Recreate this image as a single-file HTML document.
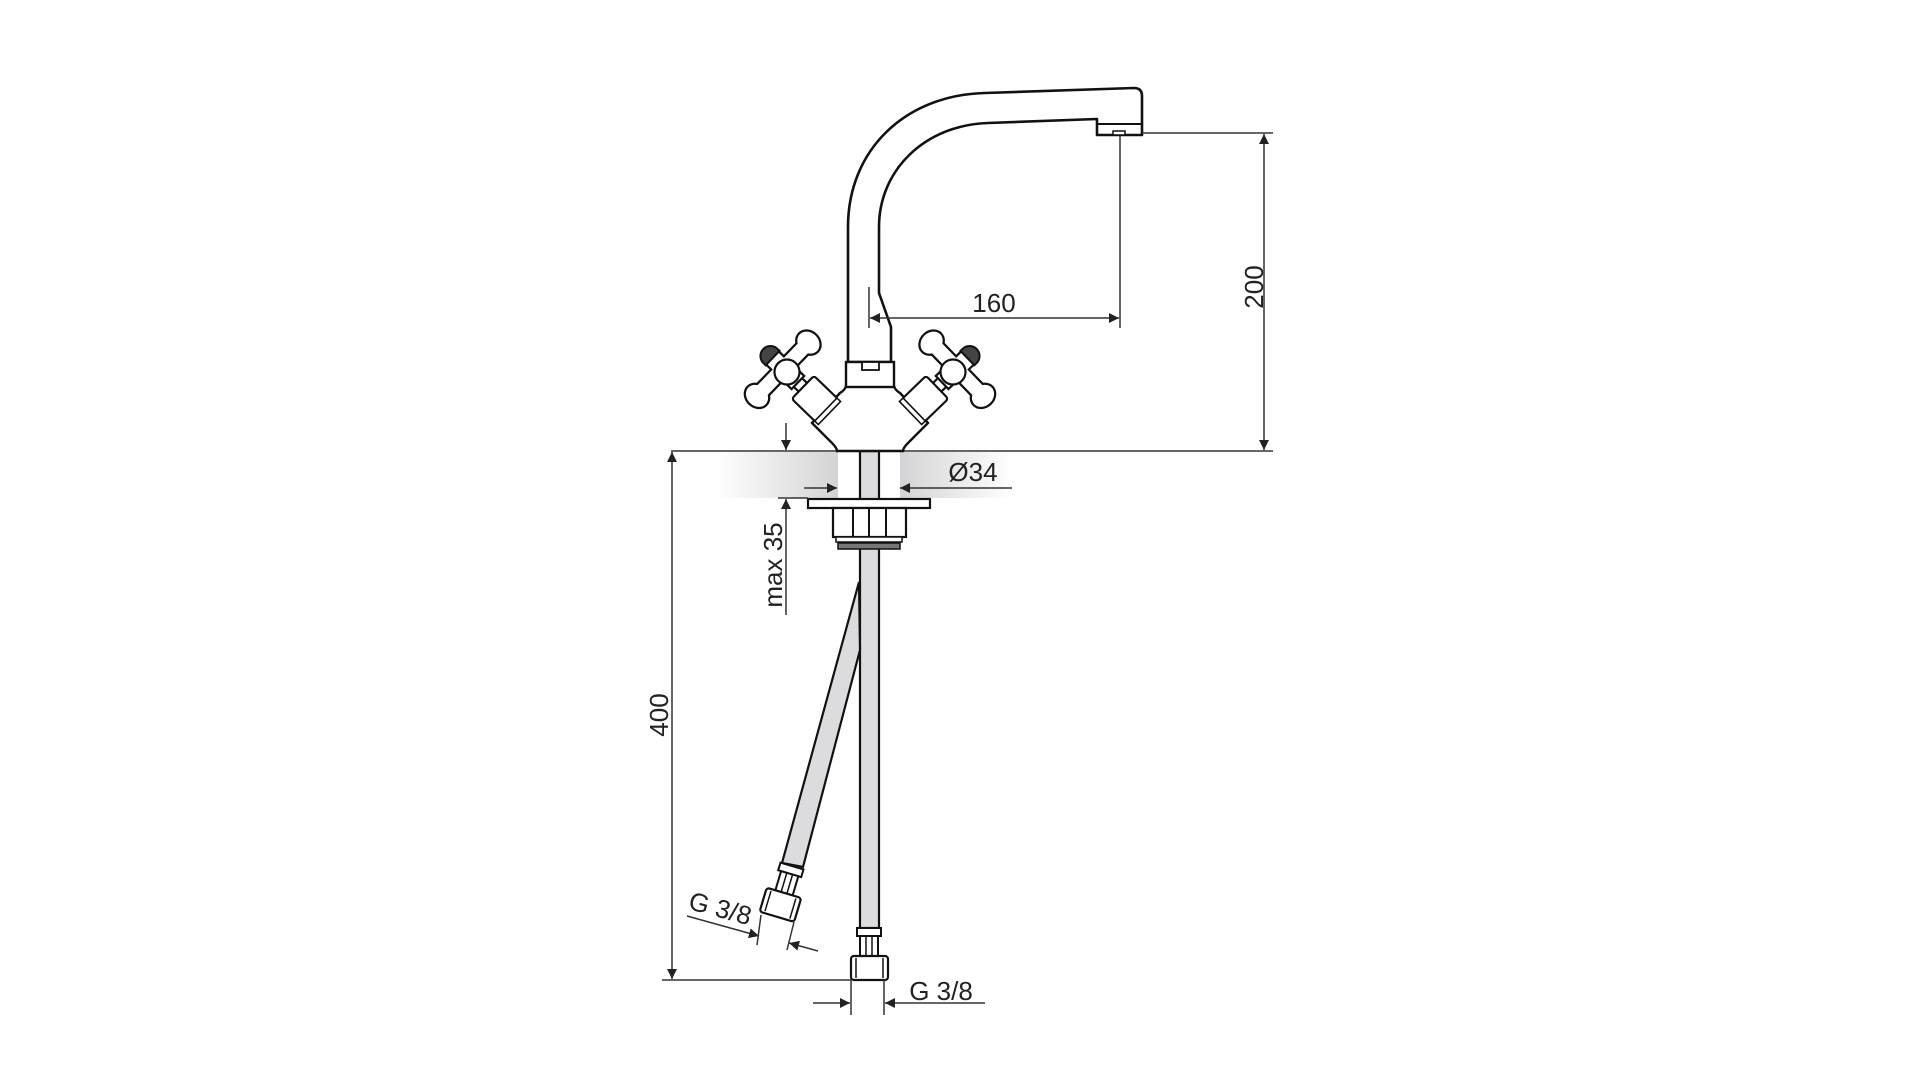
<!DOCTYPE html>
<html><head><meta charset="utf-8"><style>
html,body{margin:0;padding:0;background:#fff;}
svg{display:block;}
text{font-family:"Liberation Sans",sans-serif;fill:#222;}
</style></head><body>
<svg width="1920" height="1080" viewBox="0 0 1920 1080" xmlns="http://www.w3.org/2000/svg">
<defs>
<linearGradient id="gl" x1="0" x2="1" y1="0" y2="0">
<stop offset="0" stop-color="#fff"/><stop offset="1" stop-color="#d4d4d6"/></linearGradient>
<linearGradient id="gr" x1="0" x2="1" y1="0" y2="0">
<stop offset="0" stop-color="#d4d4d6"/><stop offset="1" stop-color="#fff"/></linearGradient>
<marker id="a" viewBox="0 0 10 10" refX="10" refY="5" markerWidth="16" markerHeight="10" markerUnits="userSpaceOnUse" orient="auto-start-reverse"><path d="M0,0 L10,5 L0,10 z" fill="#222"/></marker>
<g id="handle">
  <rect x="10" y="-6" width="14" height="12" fill="#fff" stroke="#111" stroke-width="2.2"/>
  <rect x="22" y="-16" width="33" height="32" rx="3" fill="#fff" stroke="#111" stroke-width="2.2"/>
  <rect x="54" y="-16" width="5" height="32" fill="#fff" stroke="#111" stroke-width="1.6"/>
  <g stroke="#111" stroke-width="4.5" fill="#111">
    <rect x="-12" y="-32" width="14" height="64"/>
    <ellipse cx="-5" cy="-36" rx="12" ry="10"/>
    <ellipse cx="-5" cy="38" rx="12" ry="10"/>
    <rect x="-22" y="-8" width="36" height="16"/>
  </g>
  <g fill="#fff">
    <rect x="-12" y="-32" width="14" height="64"/>
    <ellipse cx="-5" cy="-36" rx="12" ry="10"/>
    <ellipse cx="-5" cy="38" rx="12" ry="10"/>
    <rect x="-22" y="-8" width="36" height="16"/>
  </g>
  <path d="M-23,-10 A5,5 0 0 0 -23,10 L-20,10 L-20,-10 Z" fill="#444" stroke="#111" stroke-width="2"/>
  <circle cx="0" cy="0" r="12.5" fill="#fff" stroke="#111" stroke-width="2.2"/>
</g>
</defs>

<rect x="716" y="452" width="122" height="46" fill="url(#gl)"/>
<rect x="900" y="452" width="112" height="46" fill="url(#gr)"/>

<line x1="671" y1="451" x2="1273" y2="451" stroke="#333" stroke-width="1.6"/>

<rect x="860" y="451" width="19" height="477" fill="#dcdcde" stroke="#111" stroke-width="2.2"/>

<path d="M859,582 L782,863 L803,867 L860,650 Z" fill="#dcdcde" stroke="#111" stroke-width="2.2"/>

<rect x="808" y="499" width="122" height="9" fill="#fff" stroke="#111" stroke-width="2.2"/>
<rect x="833" y="508" width="73" height="29" fill="#fff" stroke="#111" stroke-width="2.2"/>
<line x1="853" y1="508" x2="853" y2="537" stroke="#111" stroke-width="2"/>
<line x1="869" y1="508" x2="869" y2="537" stroke="#111" stroke-width="2"/>
<line x1="886" y1="508" x2="886" y2="537" stroke="#111" stroke-width="2"/>
<rect x="836" y="537" width="66" height="5" fill="#fff" stroke="#111" stroke-width="1.5"/>
<rect x="838" y="543" width="62" height="6" fill="#777" stroke="#111" stroke-width="1.5"/>

<rect x="857" y="928" width="24" height="8" fill="#fff" stroke="#111" stroke-width="2"/>
<rect x="860" y="936" width="18" height="20" fill="#fff" stroke="#111" stroke-width="2"/>
<line x1="866" y1="936" x2="866" y2="956" stroke="#111" stroke-width="1.5"/>
<line x1="872" y1="936" x2="872" y2="956" stroke="#111" stroke-width="1.5"/>
<rect x="851" y="956" width="37" height="24" rx="3" fill="#fff" stroke="#111" stroke-width="2.2"/>
<line x1="856" y1="958" x2="856" y2="978" stroke="#111" stroke-width="1.5"/>
<line x1="883" y1="958" x2="883" y2="978" stroke="#111" stroke-width="1.5"/>

<g transform="translate(792,866) rotate(16.6)">
  <rect x="-12" y="0" width="24" height="8" fill="#fff" stroke="#111" stroke-width="2"/>
  <rect x="-9" y="8" width="18" height="20" fill="#fff" stroke="#111" stroke-width="2"/>
  <line x1="-3" y1="8" x2="-3" y2="28" stroke="#111" stroke-width="1.5"/>
  <line x1="3" y1="8" x2="3" y2="28" stroke="#111" stroke-width="1.5"/>
  <rect x="-18" y="28" width="36" height="25" rx="3" fill="#fff" stroke="#111" stroke-width="2.2"/>
  <line x1="-13" y1="30" x2="-13" y2="51" stroke="#111" stroke-width="1.5"/>
  <line x1="13" y1="30" x2="13" y2="51" stroke="#111" stroke-width="1.5"/>
</g>

<path d="M812,423 L832,443 Q837,448 837,451 L903,451 Q903,448 908,443 L928,423 L900,393 Q895,390 894,386 L846,386 Q845,390 840,393 Z" fill="#fff" stroke="#111" stroke-width="2.4"/>

<path d="M848,362 L848,227 C848,150 905,95 985,93 L1134,88 Q1142,88 1142,96 L1142,135 L1097,135 L1097,119 L988,123 C925,125 879,170 879,227 L879,293 L891,327 L891,362 Z" fill="#fff" stroke="#111" stroke-width="2.6" stroke-linejoin="round"/>
<line x1="1097" y1="124" x2="1142" y2="124" stroke="#111" stroke-width="2"/>
<rect x="1113" y="131" width="12" height="4" fill="#fff" stroke="#111" stroke-width="1.5"/>
<rect x="846" y="362" width="48" height="25" fill="#fff" stroke="#111" stroke-width="2.4"/>
<rect x="862" y="362" width="17" height="8" fill="#fff" stroke="#111" stroke-width="1.8"/>

<use href="#handle" transform="translate(787,372) rotate(44)"/>
<use href="#handle" transform="translate(1740,0) scale(-1,1) translate(787,372) rotate(44)"/>

<g stroke="#333" stroke-width="1.5" fill="none">
  <line x1="1142" y1="133" x2="1273" y2="133"/>
  <line x1="1264" y1="134" x2="1264" y2="450" marker-end="url(#a)" marker-start="url(#a)"/>
  <line x1="869" y1="287" x2="869" y2="328"/>
  <line x1="1120" y1="136" x2="1120" y2="328"/>
  <line x1="870" y1="318" x2="1119" y2="318" marker-end="url(#a)" marker-start="url(#a)"/>
  <line x1="786" y1="423" x2="786" y2="450" marker-end="url(#a)"/>
  <line x1="786" y1="615" x2="786" y2="499" marker-end="url(#a)"/>
  <line x1="778" y1="498" x2="808" y2="498"/>
  <line x1="804" y1="488" x2="837" y2="488" marker-end="url(#a)"/>
  <line x1="1012" y1="488" x2="900" y2="488" marker-end="url(#a)"/>
  <line x1="672" y1="452" x2="672" y2="979" marker-end="url(#a)" marker-start="url(#a)"/>
  <line x1="662" y1="980" x2="851" y2="980"/>
  <line x1="851" y1="980" x2="851" y2="1015"/>
  <line x1="884" y1="980" x2="884" y2="1015"/>
  <line x1="813" y1="1003" x2="850" y2="1003" marker-end="url(#a)"/>
  <line x1="985" y1="1003" x2="885" y2="1003" marker-end="url(#a)"/>
  <line x1="761" y1="915" x2="757" y2="945"/>
  <line x1="794" y1="922" x2="787" y2="950"/>
  <line x1="687" y1="916" x2="759" y2="936" marker-end="url(#a)"/>
  <line x1="818" y1="951" x2="789" y2="943" marker-end="url(#a)"/>
</g>

<text x="994" y="312" font-size="26" text-anchor="middle">160</text>
<text transform="translate(1263,287) rotate(-90)" font-size="26" text-anchor="middle">200</text>
<text x="973" y="481" font-size="26" text-anchor="middle">Ø34</text>
<text transform="translate(782,565) rotate(-90)" font-size="26" text-anchor="middle">max 35</text>
<text transform="translate(668,715) rotate(-90)" font-size="26" text-anchor="middle">400</text>
<text x="941" y="1000" font-size="26" text-anchor="middle">G 3/8</text>
<text transform="translate(718,917) rotate(15)" font-size="26" text-anchor="middle">G 3/8</text>
</svg>
</body></html>
